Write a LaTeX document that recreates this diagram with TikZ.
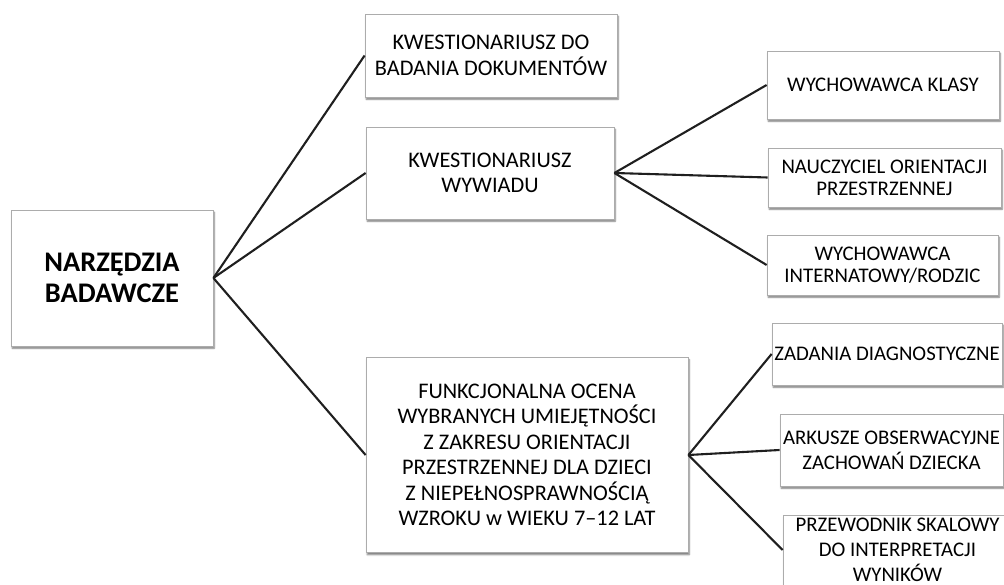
\documentclass[tikz,border=0pt]{standalone}
\usepackage{fontspec}
\setmainfont{Carlito}
\usepackage{tikz}
\usetikzlibrary{positioning,shadows.blur}

\begin{document}
\begin{tikzpicture}[
  x=1pt, y=-1pt,
  tbox/.style={rectangle, draw=gray!65, line width=0.8pt, fill=white, align=center,
    inner sep=0pt, font=\fontsize{22.3}{25.5}\selectfont,
    blur shadow={shadow xshift=1.2pt, shadow yshift=-2.2pt, shadow blur steps=6,
      shadow blur radius=1.6pt, shadow opacity=55}},
  rbox/.style={tbox, font=\fontsize{20.8}{21.8}\selectfont},
  lbox/.style={tbox, font=\fontsize{20.8}{25}\selectfont},
  rootbox/.style={tbox, font=\fontsize{28.4}{30.5}\selectfont\bfseries},
  conn/.style={line width=2.1pt, black!88},
]
  \useasboundingbox (0,0) rectangle (1004,585);

  % Root and the three kinds of tools
  \node[rootbox, minimum width=202pt, minimum height=136pt] (root) at (112,278) {NARZĘDZIA\\BADAWCZE};
  \node[tbox, minimum width=252pt, minimum height=83pt] (kdok) at (491,55.5) {KWESTIONARIUSZ DO\\BADANIA DOKUMENTÓW};
  \node[tbox, minimum width=248pt, minimum height=92pt] (kwyw) at (490,173) {KWESTIONARIUSZ\\WYWIADU};
  \node[tbox, minimum width=322pt, minimum height=195pt] (focena) at (527,455)
    {FUNKCJONALNA OCENA\\WYBRANYCH UMIEJĘTNOŚCI\\Z ZAKRESU ORIENTACJI\\PRZESTRZENNEJ DLA DZIECI\\Z NIEPEŁNOSPRAWNOŚCIĄ\\WZROKU w WIEKU 7–12 LAT};

  % Interviewed persons
  \node[rbox, minimum width=232pt, minimum height=68pt] (wklasy) at (883,85) {WYCHOWAWCA KLASY};
  \node[rbox, minimum width=233pt, minimum height=59pt] (norient) at (884.5,177.5) {NAUCZYCIEL ORIENTACJI\\PRZESTRZENNEJ};
  \node[rbox, minimum width=231pt, minimum height=60pt] (winter) at (882.5,265) {WYCHOWAWCA\\INTERNATOWY/RODZIC};

  % Parts of the functional assessment
  \node[lbox, minimum width=230pt, minimum height=62pt] (zadania) at (887,354) {ZADANIA DIAGNOSTYCZNE};
  \node[lbox, minimum width=223pt, minimum height=72pt] (arkusze) at (891.5,450) {ARKUSZE OBSERWACYJNE\\ZACHOWAŃ DZIECKA};
  \node[lbox, minimum width=229pt, minimum height=70pt] (przew) at (897.5,550) {PRZEWODNIK SKALOWY\\DO INTERPRETACJI\\WYNIKÓW};

  % Connectors
  \draw[conn] (root.east) -- (kdok.west);
  \draw[conn] (root.east) -- (kwyw.west);
  \draw[conn] (root.east) -- (focena.west);
  \draw[conn] (kwyw.east) -- (wklasy.west);
  \draw[conn] (kwyw.east) -- (norient.west);
  \draw[conn] (kwyw.east) -- (winter.west);
  \draw[conn] (focena.east) -- (zadania.west);
  \draw[conn] (focena.east) -- (arkusze.west);
  \draw[conn] (focena.east) -- (przew.west);
\end{tikzpicture}
\end{document}
